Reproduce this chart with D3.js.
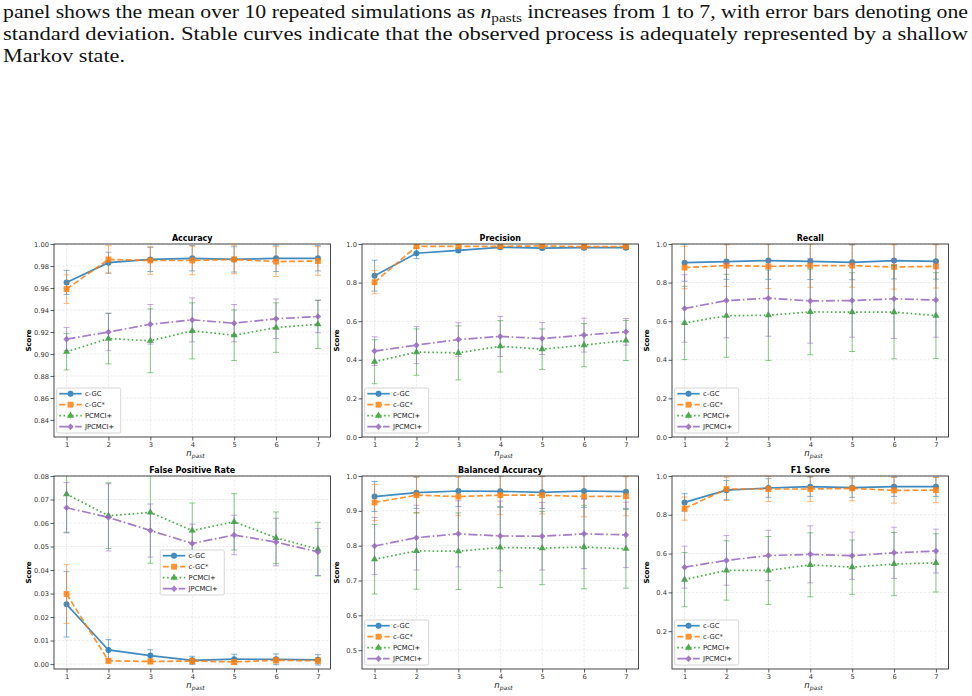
<!DOCTYPE html>
<html>
<head>
<meta charset="utf-8">
<script src="https://cdn.jsdelivr.net/npm/d3@7"></script>
<style>
  body { margin: 0; background: #fff; }
  svg { display: block; }
</style>
</head>
<body>
<script>
var nPast = [1, 2, 3, 4, 5, 6, 7];
var methods = ["c-GC", "c-GC*", "PCMCI+", "JPCMCI+"];

// rows: c-GC, c-GC*, PCMCI+, JPCMCI+
var accMean = [
  [0.965, 0.983, 0.986, 0.987, 0.986, 0.987, 0.987],
  [0.959, 0.986, 0.985, 0.985, 0.986, 0.984, 0.9845],
  [0.902, 0.914, 0.912, 0.921, 0.917, 0.924, 0.927],
  [0.9135, 0.920, 0.927, 0.931, 0.928, 0.932, 0.934]
];
var accStd = [
  [0.011, 0.0095, 0.011, 0.0115, 0.0115, 0.012, 0.0115],
  [0.013, 0.0125, 0.0125, 0.013, 0.013, 0.0135, 0.013],
  [0.0165, 0.023, 0.029, 0.0255, 0.023, 0.0225, 0.022],
  [0.0105, 0.017, 0.018, 0.020, 0.017, 0.018, 0.0147]
];
var precMean = [
  [0.836, 0.952, 0.967, 0.983, 0.979, 0.981, 0.981],
  [0.802, 0.988, 0.988, 0.988, 0.990, 0.986, 0.986],
  [0.390, 0.440, 0.436, 0.470, 0.455, 0.476, 0.500],
  [0.445, 0.476, 0.505, 0.521, 0.510, 0.528, 0.545]
];
var precStd = [
  [0.080, 0.028, 0.012, 0.008, 0.010, 0.010, 0.009],
  [0.060, 0.010, 0.010, 0.010, 0.010, 0.010, 0.010],
  [0.114, 0.120, 0.140, 0.133, 0.105, 0.112, 0.104],
  [0.074, 0.096, 0.087, 0.104, 0.083, 0.088, 0.069]
];
var recMean = [
  [0.903, 0.909, 0.914, 0.910, 0.905, 0.914, 0.910],
  [0.878, 0.888, 0.884, 0.888, 0.888, 0.881, 0.884],
  [0.591, 0.628, 0.631, 0.648, 0.647, 0.647, 0.629],
  [0.666, 0.707, 0.719, 0.705, 0.707, 0.716, 0.710]
];
var recStd = [
  [0.096, 0.092, 0.097, 0.094, 0.090, 0.095, 0.092],
  [0.110, 0.108, 0.115, 0.112, 0.112, 0.115, 0.112],
  [0.190, 0.215, 0.234, 0.222, 0.204, 0.242, 0.222],
  [0.175, 0.193, 0.197, 0.219, 0.190, 0.206, 0.193]
];
var fprMean = [
  [0.0254, 0.0060, 0.0036, 0.0016, 0.0021, 0.0020, 0.0018],
  [0.0298, 0.0014, 0.0011, 0.0013, 0.0009, 0.0016, 0.0014],
  [0.0723, 0.0631, 0.0645, 0.0568, 0.0605, 0.0537, 0.0489],
  [0.0665, 0.0624, 0.0568, 0.0513, 0.0549, 0.0519, 0.0477]
];
var fprStd = [
  [0.0139, 0.0044, 0.0025, 0.0017, 0.0021, 0.0023, 0.0022],
  [0.0125, 0.0010, 0.0010, 0.0012, 0.0010, 0.0012, 0.0012],
  [0.0162, 0.0140, 0.0216, 0.0117, 0.0120, 0.0110, 0.0114],
  [0.0107, 0.0143, 0.0113, 0.0082, 0.0084, 0.0101, 0.0100]
];
var balMean = [
  [0.941, 0.952, 0.957, 0.956, 0.953, 0.957, 0.955],
  [0.924, 0.945, 0.941, 0.945, 0.945, 0.941, 0.942],
  [0.761, 0.785, 0.784, 0.795, 0.793, 0.796, 0.791],
  [0.799, 0.823, 0.834, 0.828, 0.827, 0.834, 0.831]
];
var balStd = [
  [0.043, 0.045, 0.045, 0.044, 0.046, 0.047, 0.048],
  [0.052, 0.052, 0.055, 0.056, 0.054, 0.058, 0.056],
  [0.100, 0.110, 0.110, 0.115, 0.105, 0.120, 0.113],
  [0.082, 0.093, 0.095, 0.100, 0.097, 0.100, 0.094]
];
var f1Mean = [
  [0.864, 0.927, 0.938, 0.945, 0.940, 0.945, 0.945],
  [0.832, 0.933, 0.933, 0.933, 0.936, 0.926, 0.927],
  [0.466, 0.513, 0.513, 0.542, 0.530, 0.546, 0.552],
  [0.530, 0.565, 0.590, 0.596, 0.589, 0.604, 0.613]
];
var f1Std = [
  [0.045, 0.050, 0.048, 0.050, 0.050, 0.050, 0.050],
  [0.060, 0.060, 0.065, 0.065, 0.064, 0.066, 0.065],
  [0.140, 0.153, 0.175, 0.165, 0.140, 0.163, 0.150],
  [0.108, 0.128, 0.130, 0.147, 0.122, 0.132, 0.113]
];

var accTicks = [0.84, 0.86, 0.88, 0.90, 0.92, 0.94, 0.96, 0.98, 1.00];
var unitTicks = [0.0, 0.2, 0.4, 0.6, 0.8, 1.0];
var fprTicks = [0.00, 0.01, 0.02, 0.03, 0.04, 0.05, 0.06, 0.07, 0.08];
var balTicks = [0.5, 0.6, 0.7, 0.8, 0.9, 1.0];
var f1Ticks = [0.2, 0.4, 0.6, 0.8, 1.0];

// styles per method
var colors = ["#1f77b4", "#ff7f0e", "#2ca02c", "#9467bd"];
var dashes = [null, "6,2.6", "1.6,2.6", "9,2.6,1.6,2.6"];

var W = 972, H = 696;
var svg = d3.select("body").append("svg")
    .attr("width", W).attr("height", H);

// caption text above the figure
var cap = svg.append("g")
    .attr("font-family", "'Liberation Serif', 'Times New Roman', serif")
    .attr("font-size", 18.5).attr("fill", "#111");

var l1 = cap.append("text").attr("x", 3).attr("y", 17.5)
    .attr("textLength", 965).attr("lengthAdjust", "spacingAndGlyphs");
l1.append("tspan").text("panel shows the mean over 10 repeated simulations as ");
l1.append("tspan").attr("font-style", "italic").text("n");
l1.append("tspan").attr("font-size", 13).attr("dy", 4).text("pasts");
l1.append("tspan").attr("dy", -4).text(" increases from 1 to 7, with error bars denoting one");

cap.append("text").attr("x", 3).attr("y", 39.8)
    .attr("textLength", 965).attr("lengthAdjust", "spacingAndGlyphs")
    .text("standard deviation. Stable curves indicate that the observed process is adequately represented by a shallow");
cap.append("text").attr("x", 3).attr("y", 62)
    .attr("textLength", 122).attr("lengthAdjust", "spacingAndGlyphs")
    .text("Markov state.");

var panels = [
  {title: "Accuracy", mean: accMean, std: accStd, left: 54, top: 244, dom: [0.8245, 1.0], ticks: accTicks, fmt: ".2f", legend: "ll"},
  {title: "Precision", mean: precMean, std: precStd, left: 362, top: 244, dom: [0, 1], ticks: unitTicks, fmt: ".1f", legend: "ll"},
  {title: "Recall", mean: recMean, std: recStd, left: 672, top: 244, dom: [0, 1], ticks: unitTicks, fmt: ".1f", legend: "ll"},
  {title: "False Positive Rate", mean: fprMean, std: fprStd, left: 54, top: 476, dom: [-0.0021, 0.08], ticks: fprTicks, fmt: ".2f", legend: "c"},
  {title: "Balanced Accuracy", mean: balMean, std: balStd, left: 362, top: 476, dom: [0.446, 1.0], ticks: balTicks, fmt: ".1f", legend: "ll"},
  {title: "F1 Score", mean: f1Mean, std: f1Std, left: 672, top: 476, dom: [0.005, 1.0], ticks: f1Ticks, fmt: ".1f", legend: "ll"}
];

var pw = 276.5, ph = 193;

function marker(sel, i) {
  var c = colors[i];
  if (i === 0) {
    sel.append("circle").attr("r", 3).attr("fill", c);
  } else if (i === 1) {
    sel.append("rect").attr("x", -2.9).attr("y", -2.9).attr("width", 5.8).attr("height", 5.8).attr("fill", c);
  } else if (i === 2) {
    sel.append("path").attr("d", d3.symbol().type(d3.symbolTriangle).size(22)()).attr("fill", c);
  } else {
    sel.append("rect").attr("x", -2.3).attr("y", -2.3).attr("width", 4.6).attr("height", 4.6)
       .attr("transform", "rotate(45)").attr("fill", c);
  }
}

panels.forEach(function (p, pi) {
  var x = d3.scaleLinear().domain([0.7, 7.3]).range([0, pw]);
  var y = d3.scaleLinear().domain(p.dom).range([ph, 0]);

  var g = svg.append("g")
      .attr("transform", "translate(" + p.left + "," + p.top + ")");

  // grid
  g.append("g").selectAll("line").data(nPast).enter().append("line")
      .attr("x1", function (d) { return x(d); }).attr("x2", function (d) { return x(d); })
      .attr("y1", 0).attr("y2", ph)
      .attr("stroke", "#b0b0b0").attr("stroke-opacity", 0.35)
      .attr("stroke-width", 0.7).attr("stroke-dasharray", "2.5,1.5");
  g.append("g").selectAll("line").data(p.ticks).enter().append("line")
      .attr("y1", function (d) { return y(d); }).attr("y2", function (d) { return y(d); })
      .attr("x1", 0).attr("x2", pw)
      .attr("stroke", "#b0b0b0").attr("stroke-opacity", 0.35)
      .attr("stroke-width", 0.7).attr("stroke-dasharray", "2.5,1.5");

  // clip
  var cid = "clip" + pi;
  g.append("clipPath").attr("id", cid).append("rect")
      .attr("width", pw).attr("height", ph);
  var plot = g.append("g").attr("clip-path", "url(#" + cid + ")");

  p.mean.forEach(function (vals, i) {
    var pts = nPast.map(function (n, k) { return {n: n, v: vals[k], s: p.std[i][k]}; });
    var sg = plot.append("g");
    var line = d3.line().x(function (d) { return x(d.n); }).y(function (d) { return y(d.v); });

    // error bars
    var eb = sg.append("g").attr("stroke", colors[i]).attr("stroke-opacity", 0.55).attr("stroke-width", 1);
    eb.selectAll(".v").data(pts).enter().append("line")
        .attr("x1", function (d) { return x(d.n); }).attr("x2", function (d) { return x(d.n); })
        .attr("y1", function (d) { return y(d.v - d.s); }).attr("y2", function (d) { return y(d.v + d.s); });
    [-1, 1].forEach(function (sgn) {
      eb.selectAll(".c" + sgn).data(pts).enter().append("line")
          .attr("x1", function (d) { return x(d.n) - 3; }).attr("x2", function (d) { return x(d.n) + 3; })
          .attr("y1", function (d) { return y(d.v + sgn * d.s); })
          .attr("y2", function (d) { return y(d.v + sgn * d.s); });
    });

    var lg = sg.append("g").attr("opacity", 0.85);
    lg.append("path").datum(pts).attr("d", line)
        .attr("fill", "none").attr("stroke", colors[i]).attr("stroke-width", 1.7)
        .attr("stroke-dasharray", dashes[i]);
    lg.selectAll(".m").data(pts).enter().append("g")
        .attr("transform", function (d) { return "translate(" + x(d.n) + "," + y(d.v) + ")"; })
        .each(function () { marker(d3.select(this), i); });
  });

  // axes
  var xAxis = d3.axisBottom(x).tickValues(nPast).tickSize(3.5).tickPadding(1.5).tickFormat(d3.format("d"));
  var yAxis = d3.axisLeft(y).tickValues(p.ticks).tickSize(3.5).tickPadding(1.5).tickFormat(d3.format(p.fmt));
  var xa = g.append("g").attr("transform", "translate(0," + ph + ")").call(xAxis);
  var ya = g.append("g").call(yAxis);
  [xa, ya].forEach(function (a) {
    a.select(".domain").remove();
    a.selectAll("line").attr("stroke", "#333").attr("stroke-width", 0.8);
    a.selectAll("text").attr("fill", "#333").attr("font-size", 6.7)
        .attr("font-family", "'DejaVu Sans', sans-serif");
  });

  g.append("rect").attr("width", pw).attr("height", ph)
      .attr("fill", "none").attr("stroke", "#333").attr("stroke-width", 0.9);

  // title
  g.append("text").attr("x", pw / 2).attr("y", -3.3).attr("text-anchor", "middle")
      .attr("font-family", "'DejaVu Sans', sans-serif").attr("font-weight", "bold")
      .attr("font-size", 8).text(p.title);

  // y label
  g.append("text").attr("transform", "translate(-23," + ph / 2 + ") rotate(-90)")
      .attr("text-anchor", "middle")
      .attr("font-family", "'DejaVu Sans', sans-serif").attr("font-weight", "bold")
      .attr("font-size", 7).text("Score");

  // x label n_past
  var xl = g.append("text").attr("x", pw / 2 - 6).attr("y", ph + 18.5)
      .attr("font-family", "'DejaVu Sans', sans-serif").attr("font-style", "italic")
      .attr("font-size", 8.5).attr("fill", "#222");
  xl.append("tspan").text("n");
  xl.append("tspan").attr("font-size", 6).attr("dy", 2).text("past");

  // legend
  var lw = 64, lh = 45;
  var lx = p.legend === "ll" ? 2.7 : (pw - lw) / 2;
  var ly = p.legend === "ll" ? ph - lh - 4 : (ph - lh) / 2;
  var leg = g.append("g").attr("transform", "translate(" + lx + "," + ly + ")");
  leg.append("rect").attr("width", lw).attr("height", lh).attr("rx", 1.5)
      .attr("fill", "#fff").attr("fill-opacity", 0.85)
      .attr("stroke", "#ccc").attr("stroke-width", 0.8);
  methods.forEach(function (m, i) {
    var row = leg.append("g").attr("transform", "translate(0," + (5.7 + i * 11) + ")");
    var hg = row.append("g").attr("opacity", 0.85);
    hg.append("line").attr("x1", 2.6).attr("x2", 25)
        .attr("stroke", colors[i]).attr("stroke-width", 1.7)
        .attr("stroke-dasharray", dashes[i]);
    hg.append("line").attr("x1", 13.8).attr("x2", 13.8).attr("y1", -3).attr("y2", 3)
        .attr("stroke", colors[i]).attr("stroke-opacity", 0.5).attr("stroke-width", 1);
    marker(hg.append("g").attr("transform", "translate(13.8,0)"), i);
    row.append("text").attr("x", 28.3).attr("y", 2.3)
        .attr("font-family", "'DejaVu Sans', sans-serif").attr("font-size", 6.8)
        .attr("fill", "#222").text(m);
  });
});
</script>
</body>
</html>
